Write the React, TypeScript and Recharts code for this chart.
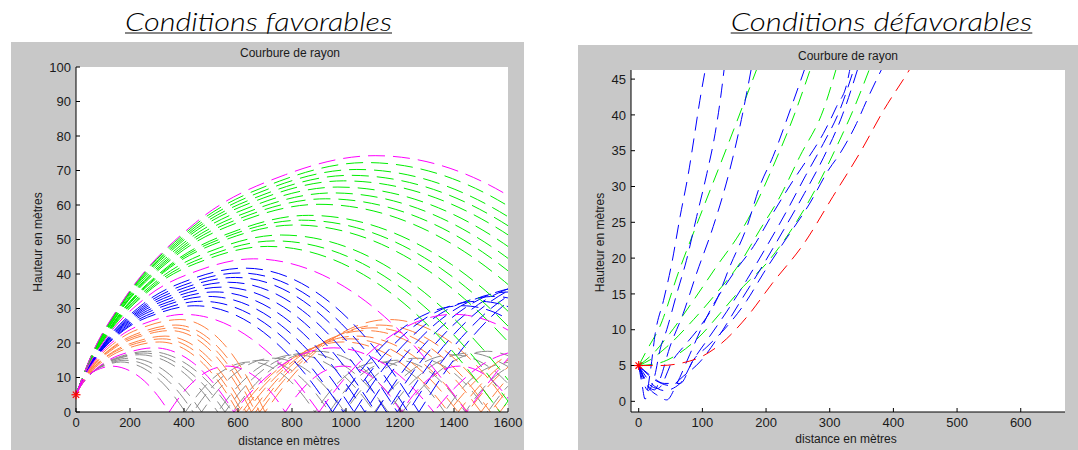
import React from 'react';
import { ComposedChart, Line, XAxis, YAxis, CartesianGrid, ReferenceDot } from 'recharts';

type Pt = [number, number];
type Arc = Pt[];

// ---------- Left panel: "Conditions favorables" (rays, each = list of arcs between ground bounces)
const favMagenta1: Arc[] = [[[0,5],[55,16.1],[166,31.3],[443,54.9],[776,68.8],[1108,74.3],[1733,55.7],[2108,26.7],[2358,0]]];
const favGreenA: Arc[] = [[[0,5],[54,15.8],[161,30.6],[430,53.5],[753,66.9],[1075,72.3],[1705,54.2],[2083,26.0],[2335,0]]];
const favGreen8: Arc[] = [[[0,5],[52,15.4],[156,29.8],[416,52.0],[728,65.1],[1040,70.3],[1675,52.7],[2056,25.3],[2310,0]]];
const favGreenB: Arc[] = [[[0,5],[51,15.2],[152,29.2],[406,50.8],[711,63.5],[1015,68.6],[1648,51.5],[2027,24.7],[2280,0]]];
const favGreen7: Arc[] = [[[0,5],[50,14.9],[149,28.6],[396,49.6],[693,62.0],[990,67],[1620,50.3],[1998,24.1],[2250,0]]];
const favGreenC: Arc[] = [[[0,5],[49,14.6],[146,27.9],[388,48.3],[679,60.4],[970,65.2],[1583,48.9],[1950,23.5],[2195,0]]];
const favGreen6: Arc[] = [[[0,5],[48,14.4],[143,27.2],[380,47.1],[665,58.8],[950,63.5],[1545,47.6],[1902,22.9],[2140,0]]];
const favGreenD: Arc[] = [[[0,5],[46,14.1],[139,26.6],[370,45.9],[648,57.3],[925,61.8],[1505,46.4],[1853,22.2],[2085,0]]];
const favGreen5: Arc[] = [[[0,5],[45,13.8],[135,26.0],[360,44.7],[630,55.8],[900,60.2],[1463,45.2],[1800,21.7],[2025,0]]];
const favGreen4: Arc[] = [[[0,5],[43,13.3],[129,24.8],[344,42.4],[602,52.8],[860,57],[1390,42.8],[1708,20.5],[1920,0]]];
const favGreenE: Arc[] = [[[0,5],[42,13.1],[125,24.2],[334,41.4],[585,51.6],[835,55.6],[1350,41.7],[1659,20.0],[1865,0]]];
const favGreen3: Arc[] = [[[0,5],[41,12.9],[122,23.7],[324,40.4],[567,50.3],[810,54.2],[1310,40.7],[1610,19.5],[1810,0]]];
const favGreen2: Arc[] = [[[0,5],[38,12.4],[114,22.6],[304,38.3],[532,47.6],[760,51.3],[1225,38.5],[1504,18.5],[1690,0]]];
const favGreenF: Arc[] = [[[0,5],[37,12.1],[110,21.9],[294,37.1],[515,46.0],[735,49.6],[1183,37.2],[1451,17.9],[1630,0]]];
const favGreen1: Arc[] = [[[0,5],[36,11.9],[107,21.3],[284,36.0],[497,44.6],[710,48],[1140,36],[1398,17.3],[1570,0]],[[1570,0],[1742,17.3],[2000,36]]];
const favMagenta2: Arc[] = [[[0,5],[33,11.3],[99,20.0],[263,33.4],[460,41.2],[657,44.4],[1052,33.3],[1289,16.0],[1447,0]],[[1447,0],[1605,16.0],[1842,33.3],[2237,44.4]]];
const favBlue5: Arc[] = [[[0,5],[31,10.9],[94,18.9],[250,31.4],[438,38.8],[625,41.7],[948,31.3],[1141,15.0],[1270,0]],[[1270,0],[1398,15.0],[1590,31.3],[1910,41.7]]];
const favBlueB: Arc[] = [[[0,5],[30,10.6],[91,18.4],[243,30.4],[425,37.5],[607,40.3],[919,30.2],[1105,14.5],[1230,0]],[[1230,0],[1354,14.5],[1540,30.2],[1850,40.3]]];
const favBlue4: Arc[] = [[[0,5],[30,10.4],[89,17.9],[236,29.5],[413,36.3],[590,39],[890,29.3],[1070,14.0],[1190,0]],[[1190,0],[1310,14.0],[1490,29.3],[1790,39],[2090,29.3]]];
const favBlueC: Arc[] = [[[0,5],[28,10.2],[85,17.4],[226,28.5],[396,35.0],[565,37.6],[858,28.2],[1033,13.5],[1150,0]],[[1150,0],[1266,13.5],[1440,28.2],[1730,37.6],[2020,28.2]]];
const favBlue3: Arc[] = [[[0,5],[27,10.0],[81,16.9],[216,27.5],[378,33.7],[540,36.2],[825,27.2],[996,13.0],[1110,0]],[[1110,0],[1222,13.0],[1390,27.2],[1670,36.2],[1950,27.2]]];
const favBlueD: Arc[] = [[[0,5],[26,9.8],[77,16.3],[206,26.5],[361,32.4],[515,34.8],[793,26.1],[959,12.5],[1070,0]],[[1070,0],[1178,12.5],[1340,26.1],[1610,34.8],[1880,26.1]]];
const favBlue2: Arc[] = [[[0,5],[25,9.6],[74,15.8],[196,25.5],[343,31.2],[490,33.5],[760,25.1],[922,12.1],[1030,0]],[[1030,0],[1134,12.1],[1290,25.1],[1550,33.5],[1810,25.1]]];
const favBlueE: Arc[] = [[[0,5],[23,9.3],[70,15.3],[186,24.5],[326,29.9],[465,32.1],[728,24.1],[885,11.6],[990,0]],[[990,0],[1090,11.6],[1240,24.1],[1490,32.1],[1740,24.1],[1890,11.6]]];
const favBlue1: Arc[] = [[[0,5],[22,9.1],[66,14.8],[176,23.6],[308,28.7],[440,30.8],[695,23.1],[848,11.1],[950,0]],[[950,0],[1046,11.1],[1190,23.1],[1430,30.8],[1670,23.1],[1814,11.1]]];
const favMagenta3: Arc[] = [[[0,5],[20,8.7],[60,13.9],[160,21.8],[280,26.4],[400,28.3],[650,21.2],[800,10.2],[900,0]],[[900,0],[1000,10.2],[1150,21.2],[1400,28.3],[1650,21.2],[1800,10.2]]];
const favOrange5: Arc[] = [[[0,5],[19,8.5],[58,13.3],[154,20.7],[270,25.1],[385,26.8],[543,20.1],[637,9.6],[700,0]],[[700,0],[792,9.6],[930,20.1],[1160,26.8],[1390,20.1],[1528,9.6],[1620,0]]];
const favOrange4: Arc[] = [[[0,5],[19,8.2],[56,12.7],[148,19.5],[259,23.6],[370,25.2],[525,18.9],[618,9.1],[680,0]],[[680,0],[769,9.1],[903,18.9],[1125,25.2],[1348,18.9],[1481,9.1],[1570,0]],[[1570,0],[1659,9.1]]];
const favOrangeB: Arc[] = [[[0,5],[18,8.1],[54,12.4],[144,19.0],[252,22.8],[360,24.4],[513,18.3],[604,8.8],[665,0]],[[665,0],[752,8.8],[883,18.3],[1100,24.4],[1318,18.3],[1448,8.8],[1535,0]],[[1535,0],[1622,8.8]]];
const favOrange3: Arc[] = [[[0,5],[18,8.0],[53,12.1],[140,18.4],[245,22.1],[350,23.6],[500,17.7],[590,8.5],[650,0]],[[650,0],[735,8.5],[863,17.7],[1075,23.6],[1288,17.7],[1415,8.5],[1500,0]],[[1500,0],[1585,8.5],[1713,17.7]]];
const favOrange2: Arc[] = [[[0,5],[17,7.7],[50,11.5],[132,17.2],[231,20.6],[330,22],[480,16.5],[570,7.9],[630,0]],[[630,0],[712,7.9],[835,16.5],[1040,22],[1245,16.5],[1368,7.9],[1450,0]],[[1450,0],[1532,7.9],[1655,16.5]]];
const favOrangeA: Arc[] = [[[0,5],[16,7.6],[48,11.2],[128,16.7],[224,19.9],[320,21.2],[467,15.9],[556,7.6],[615,0]],[[615,0],[695,7.6],[815,15.9],[1015,21.2],[1215,15.9],[1335,7.6],[1415,0]],[[1415,0],[1495,7.6],[1615,15.9],[1815,21.2]]];
const favOrange1: Arc[] = [[[0,5],[16,7.4],[47,10.8],[124,16.0],[217,19.1],[310,20.3],[455,15.2],[542,7.3],[600,0]],[[600,0],[678,7.3],[795,15.2],[990,20.3],[1185,15.2],[1302,7.3],[1380,0]],[[1380,0],[1458,7.3],[1575,15.2],[1770,20.3]]];
const favMagenta4: Arc[] = [[[0,5],[15,7.2],[44,10.2],[116,14.8],[203,17.5],[290,18.6],[438,14.0],[526,6.7],[585,0]],[[585,0],[659,6.7],[770,14.0],[955,18.6],[1140,14.0],[1251,6.7],[1325,0]],[[1325,0],[1399,6.7],[1510,14.0],[1695,18.6]]];
const favGray4: Arc[] = [[[0,5],[13,7.0],[40,9.8],[106,14.1],[186,16.6],[265,17.6],[423,13.2],[517,6.3],[580,0]],[[580,0],[643,6.3],[738,13.2],[895,17.6],[1053,13.2],[1147,6.3],[1210,0]],[[1210,0],[1273,6.3],[1368,13.2],[1525,17.6],[1683,13.2]]];
const favGrayB: Arc[] = [[[0,5],[13,6.9],[38,9.6],[100,13.7],[175,16.1],[250,17.1],[401,12.8],[492,6.2],[552,0]],[[552,0],[612,6.2],[703,12.8],[854,17.1],[1005,12.8],[1096,6.2],[1156,0]],[[1156,0],[1216,6.2],[1307,12.8],[1458,17.1],[1609,12.8]]];
const favGray3: Arc[] = [[[0,5],[12,6.9],[35,9.4],[94,13.4],[165,15.7],[235,16.6],[380,12.5],[467,6.0],[525,0]],[[525,0],[583,6.0],[670,12.5],[815,16.6],[960,12.5],[1047,6.0],[1105,0]],[[1105,0],[1163,6.0],[1250,12.5],[1395,16.6],[1540,12.5],[1627,6.0]]];
const favGray2: Arc[] = [[[0,5],[10,6.7],[30,9.0],[80,12.6],[140,14.8],[200,15.6],[333,11.7],[412,5.6],[465,0]],[[465,0],[518,5.6],[598,11.7],[730,15.6],[863,11.7],[942,5.6],[995,0]],[[995,0],[1048,5.6],[1128,11.7],[1260,15.6],[1393,11.7],[1472,5.6],[1525,0]],[[1525,0],[1578,5.6],[1658,11.7]]];
const favGrayA: Arc[] = [[[0,5],[9,6.6],[27,8.8],[73,12.2],[127,14.2],[182,15],[308,11.3],[384,5.4],[434,0]],[[434,0],[484,5.4],[560,11.3],[686,15],[812,11.3],[888,5.4],[938,0]],[[938,0],[988,5.4],[1064,11.3],[1190,15],[1316,11.3],[1392,5.4],[1442,0]],[[1442,0],[1492,5.4],[1568,11.3],[1694,15]]];
const favGray1: Arc[] = [[[0,5],[8,6.5],[25,8.6],[66,11.8],[116,13.7],[165,14.5],[285,10.9],[357,5.2],[405,0]],[[405,0],[453,5.2],[525,10.9],[645,14.5],[765,10.9],[837,5.2],[885,0]],[[885,0],[933,5.2],[1005,10.9],[1125,14.5],[1245,10.9],[1317,5.2],[1365,0]],[[1365,0],[1413,5.2],[1485,10.9],[1605,14.5]]];
const favMagenta5: Arc[] = [[[0,5],[7,6.3],[20,8.2],[52,11.0],[91,12.6],[130,13.3],[238,10.0],[302,4.8],[345,0]],[[345,0],[388,4.8],[453,10.0],[560,13.3],[668,10.0],[732,4.8],[775,0]],[[775,0],[818,4.8],[883,10.0],[990,13.3],[1098,10.0],[1162,4.8],[1205,0]],[[1205,0],[1248,4.8],[1313,10.0],[1420,13.3],[1528,10.0],[1592,4.8],[1635,0]]];

// ---------- Right panel: "Conditions défavorables"
const defRed: Arc[] = [[[0,5],[35,5],[65,5.3],[100,6.3],[130,8.1],[170,11.8],[210,16.5],[260,22.1],[305,28.6],[350,35.1],[385,40.7],[421,45.7],[430,47]]];
const defBlue1: Arc[] = [[[0,5],[5,2.5],[10,0.3],[18,4],[26,9.5],[39,14.1],[52,19.3],[65,25.8],[78,31.8],[88,37.4],[96,42],[106,47]]];
const defBlue2: Arc[] = [[[0,5],[8,2.5],[15,1.5],[25,3.5],[33.5,7.2],[44,10],[60,15.1],[75,19.7],[91,25.8],[107,31.8],[120,37.4],[128,42],[135,47]]];
const defBlue3: Arc[] = [[[0,5],[12,2.5],[25,1.6],[33,3],[49,7.6],[70,12.3],[91,17.9],[117,24.4],[143,32.3],[159,38.4],[178,47]]];
const defGreen1: Arc[] = [[[0,5],[15,7.5],[33,10.4],[62,17.9],[96,25.8],[143,36.5],[188,47]]];
const defBlue4: Arc[] = [[[0,5],[15,2.5],[30,1.8],[54,5.8],[75,8.1],[96,10.4],[122,14.1],[143,18.8],[170,24.4],[190,30],[211,34.2],[238,40.7],[263,47]]];
const defGreen2: Arc[] = [[[0,5],[23,6.7],[49,9.5],[86,14.1],[122,18.8],[159,23.5],[185,27.7],[211,32.8],[243,39.7],[272,47]]];
const defBlue5: Arc[] = [[[0,5],[15,2],[30,0.8],[44,0.2],[60,2.5],[80,6.5],[107,11.8],[149,17.9],[180,21.6],[211,26.3],[243,30.9],[264,33.7],[290,37.4],[311,41.2],[327,44.4],[333,47]]];
const defGreen3: Arc[] = [[[0,5],[18,5.8],[44,7.6],[86,11.4],[122,15.1],[159,19.3],[190,23.9],[222,28.6],[253,34.2],[290,40.7],[312,47]]];
const defBlue6: Arc[] = [[[0,5],[20,2.5],[40,1.5],[65,2.5],[86,5.8],[107,8.5],[138,12.5],[170,17],[200,21.5],[232,26.5],[262,31.5],[290,36],[315,40.5],[340,47]]];
const defBlue7: Arc[] = [[[0,5],[25,3],[50,2.2],[70,3.5],[96,5.5],[125,9],[160,14],[195,19],[228,24],[260,29],[290,34],[320,40],[346,47]]];
const defGreen4: Arc[] = [[[0,5],[30,5.3],[60,6.5],[95,9],[128,12.3],[164,16],[201,19.3],[243,24.4],[280,30],[311,35.6],[337,40.7],[365,47]]];
const defBlue8: Arc[] = [[[0,5],[20,3.5],[40,2.5],[65,2.5],[86,5.8],[107,7.6],[138,10.4],[170,14.1],[196,17.9],[227,22.1],[269,27.7],[298,32.3],[316,34.6],[342,38.8],[358,42],[385,47]]];

// ---------- ticks
const favXTicks = [0, 200, 400, 600, 800, 1000, 1200, 1400, 1600];
const favYTicks = [0, 10, 20, 30, 40, 50, 60, 70, 80, 90, 100];
const defXTicks = [0, 100, 200, 300, 400, 500, 600];
const defYTicks = [0, 5, 10, 15, 20, 25, 30, 35, 40, 45];

const MAG = '#ff00ff';
const GRN = '#00ee00';
const BLU = '#0000ff';
const ORA = '#ff8040';
const GRY = '#8c8c8c';
const RED = '#ff0000';

const favRays = [
  { c: GRY, arcs: favGray1 }, { c: GRY, arcs: favGrayA }, { c: GRY, arcs: favGray2 }, { c: GRY, arcs: favGray3 }, { c: GRY, arcs: favGrayB }, { c: GRY, arcs: favGray4 },
  { c: ORA, arcs: favOrange1 }, { c: ORA, arcs: favOrangeA }, { c: ORA, arcs: favOrange2 }, { c: ORA, arcs: favOrange3 }, { c: ORA, arcs: favOrangeB }, { c: ORA, arcs: favOrange4 }, { c: ORA, arcs: favOrange5 },
  { c: BLU, arcs: favBlue1 }, { c: BLU, arcs: favBlueE }, { c: BLU, arcs: favBlue2 }, { c: BLU, arcs: favBlueD }, { c: BLU, arcs: favBlue3 },
  { c: BLU, arcs: favBlueC }, { c: BLU, arcs: favBlue4 }, { c: BLU, arcs: favBlueB }, { c: BLU, arcs: favBlue5 },
  { c: GRN, arcs: favGreen1 }, { c: GRN, arcs: favGreenF }, { c: GRN, arcs: favGreen2 }, { c: GRN, arcs: favGreen3 }, { c: GRN, arcs: favGreenE },
  { c: GRN, arcs: favGreen4 }, { c: GRN, arcs: favGreen5 }, { c: GRN, arcs: favGreenD }, { c: GRN, arcs: favGreen6 }, { c: GRN, arcs: favGreenC },
  { c: GRN, arcs: favGreen7 }, { c: GRN, arcs: favGreenB }, { c: GRN, arcs: favGreen8 }, { c: GRN, arcs: favGreenA },
  { c: MAG, arcs: favMagenta5 }, { c: MAG, arcs: favMagenta4 }, { c: MAG, arcs: favMagenta3 }, { c: MAG, arcs: favMagenta2 }, { c: MAG, arcs: favMagenta1 },
];

const defRays = [
  { c: GRN, arcs: defGreen1 }, { c: GRN, arcs: defGreen2 }, { c: GRN, arcs: defGreen3 }, { c: GRN, arcs: defGreen4 },
  { c: BLU, arcs: defBlue1 }, { c: BLU, arcs: defBlue2 }, { c: BLU, arcs: defBlue3 }, { c: BLU, arcs: defBlue4 },
  { c: BLU, arcs: defBlue5 }, { c: BLU, arcs: defBlue6 }, { c: BLU, arcs: defBlue7 }, { c: BLU, arcs: defBlue8 },
  { c: RED, arcs: defRed },
];

const FONT = 'Liberation Sans, Arial, Helvetica, sans-serif';

const Star = (p: any) => {
  const { cx, cy } = p;
  const r = 4.5;
  const d = 3.2;
  return (
    <g stroke={RED} strokeWidth={1.2}>
      <line x1={cx - r} y1={cy} x2={cx + r} y2={cy} />
      <line x1={cx} y1={cy - r} x2={cx} y2={cy + r} />
      <line x1={cx - d} y1={cy - d} x2={cx + d} y2={cy + d} />
      <line x1={cx - d} y1={cy + d} x2={cx + d} y2={cy - d} />
    </g>
  );
};

function Panel(props: any) {
  const { x, y, w, h, yAxisWidth, mTop, mRight, xAxisHeight, xDomain, yDomain, xTicks, yTicks, rays, dash } = props;
  const tickStyle = { fontSize: 13, fill: '#1a1a1a', fontFamily: FONT };
  return (
    <div style={{ position: 'absolute', left: x, top: y, width: w, height: h, background: '#c8c8c8' }}>
      <ComposedChart width={w} height={h} margin={{ top: mTop, right: mRight, bottom: 0, left: 0 }}>
        <CartesianGrid fill="#ffffff" stroke="none" />
        <XAxis
          type="number"
          dataKey="x"
          domain={xDomain}
          ticks={xTicks}
          allowDataOverflow
          interval={0}
          height={xAxisHeight}
          tickSize={-4}
          tickMargin={10}
          axisLine={{ stroke: '#000' }}
          tickLine={{ stroke: '#000' }}
          tick={tickStyle}
        />
        <YAxis
          type="number"
          domain={yDomain}
          ticks={yTicks}
          allowDataOverflow
          interval={0}
          width={yAxisWidth}
          tickSize={-4}
          tickMargin={9}
          axisLine={{ stroke: '#000' }}
          tickLine={{ stroke: '#000' }}
          tick={tickStyle}
        />
        {rays.flatMap((r: any, i: number) =>
          r.arcs.map((arc: Arc, j: number) => (
            <Line
              key={`r${i}-${j}`}
              data={arc.map(([px, py]) => ({ x: px, y: py }))}
              dataKey="y"
              type="monotone"
              stroke={r.c}
              strokeWidth={1}
              strokeDasharray={dash}
              strokeDashoffset={j === 0 ? 0 : (i * 13 + j * 7) % 25}
              dot={false}
              activeDot={false}
              isAnimationActive={false}
            />
          ))
        )}
        <ReferenceDot x={0} y={5} r={4} ifOverflow="visible" shape={Star} />
      </ComposedChart>
    </div>
  );
}

export default function App() {
  const labelStyle: any = { fontFamily: FONT, fontSize: 12, fill: '#1a1a1a' };
  const titleStyle: any = { fontFamily: 'Lato, "Open Sans", sans-serif', fontStyle: 'italic', fontWeight: 300, fontSize: 26, fill: '#000' };
  return (
    <div style={{ position: 'fixed', left: 0, top: 0, width: 1078, height: 450, background: '#fff', overflow: 'hidden' }}>
      <Panel
        x={11} y={42} w={513} h={408}
        yAxisWidth={65} mTop={25} mRight={16} xAxisHeight={38}
        xDomain={[0, 1600]} yDomain={[0, 100]}
        xTicks={favXTicks} yTicks={favYTicks}
        rays={favRays} dash="17 8"
      />
      <Panel
        x={578} y={45} w={500} h={405}
        yAxisWidth={53} mTop={25} mRight={13} xAxisHeight={38}
        xDomain={[-12.1, 669.5]} yDomain={[-1.49, 46.27]}
        xTicks={defXTicks} yTicks={defYTicks}
        rays={defRays} dash="14 8"
      />
      <svg width={1078} height={450} style={{ position: 'absolute', left: 0, top: 0, pointerEvents: 'none' }}>
        <text x={258.5} y={31} textAnchor="middle" textLength={267} lengthAdjust="spacingAndGlyphs" style={titleStyle}>Conditions favorables</text>
        <line x1={125} y1={33} x2={392} y2={33} stroke="#111" strokeWidth={1.2} />
        <text x={881.5} y={31} textAnchor="middle" textLength={301.6} lengthAdjust="spacingAndGlyphs" style={titleStyle}>Conditions défavorables</text>
        <line x1={730.7} y1={33} x2={1032.3} y2={33} stroke="#111" strokeWidth={1.2} />

        <text x={290} y={57} textAnchor="middle" style={labelStyle}>Courbure de rayon</text>
        <text x={848} y={60} textAnchor="middle" style={labelStyle}>Courbure de rayon</text>

        <text x={289} y={445} textAnchor="middle" style={labelStyle}>distance en mètres</text>
        <text x={846} y={443} textAnchor="middle" style={labelStyle}>distance en mètres</text>

        <text x={0} y={0} textAnchor="middle" transform="translate(42,242) rotate(-90)" style={labelStyle}>Hauteur en mètres</text>
        <text x={0} y={0} textAnchor="middle" transform="translate(604,242.5) rotate(-90)" style={labelStyle}>Hauteur en mètres</text>
      </svg>
    </div>
  );
}
